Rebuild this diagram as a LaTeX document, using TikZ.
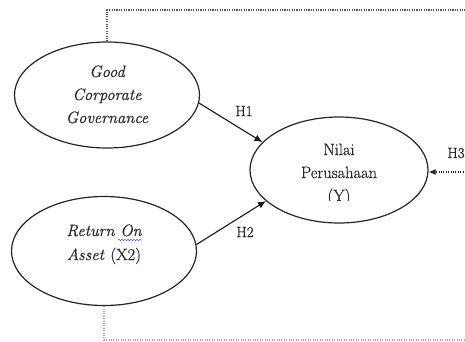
\documentclass[tikz,border=0pt]{standalone}
\usepackage{fontspec}
\setmainfont{Latin Modern Roman}[FakeBold=0.5]
\usetikzlibrary{shapes.geometric,arrows.meta,decorations.pathmorphing}
\begin{document}
\begin{tikzpicture}[x=1bp,y=-1bp,
  var/.style={draw=black!85,line width=1.2bp,ellipse,inner sep=0pt},
  txt/.style={font=\fontsize{16.5}{20}\selectfont,anchor=base,inner sep=0pt,text=black!85},
  lbl/.style={font=\fontsize{15}{17}\selectfont,inner sep=0pt,text=black!85},
  path/.style={draw=black!90,line width=1.1bp,-{Latex[length=8bp,width=7bp]}},
  dotline/.style={draw=black!65,line width=1.1bp,dash pattern=on 1.1bp off 1.3bp}]
\useasboundingbox (0,0) rectangle (465,341);
% ellipses
\node[var,minimum width=185bp,minimum height=106bp] (gcg) at (107,95) {};
\node[var,minimum width=185bp,minimum height=109bp] (roa) at (104,251) {};
\node[var,minimum width=178bp,minimum height=106bp] (y) at (339,170) {};
% texts
\node[txt] (g1) at (107,77) {\itshape Good};
\node[txt] (g2) at (107,100) {\itshape Corporate};
\node[txt] (g3) at (107,123) {\itshape Governance};
\node[txt] (r1) at (104,236) {\itshape Return On};
\node[txt] (r2) at (104,260) {\itshape Asset\/ \upshape(X2)};
\node[txt] (y1) at (339,155) {Nilai};
\node[txt] (y2) at (339,178) {Perusahaan};
\begin{scope}
\clip (300,180) rectangle (380,200);
\node[txt] (y3) at (339,201) {(Y)};
\end{scope}
\draw[blue!70,line width=0.5bp,decorate,decoration={snake,amplitude=0.8bp,segment length=3bp}] (118,240) -- (142,240);
% labels
\node[lbl] (h1) at (244,111) {H1};
\node[lbl] (h2) at (245,232) {H2};
\node[lbl] (h3) at (456,153) {H3};
% arrows
\draw[path] (gcg.-5) -- (y.160);
\draw[path] (roa.4) -- (y.203);
% dotted lines
\coordinate (tr) at (466,10);
\coordinate (br) at (466,340);
\coordinate (h3s) at (466,172);
\draw[dotline] (gcg.north) |- (tr);
\draw[dotline,draw=black!35] (roa.south) |- (br);
\draw[dotline,draw=black!85,-{Latex[length=7bp,width=6bp]}] (h3s) -- (y.east |- h3s);
\end{tikzpicture}
\end{document}
